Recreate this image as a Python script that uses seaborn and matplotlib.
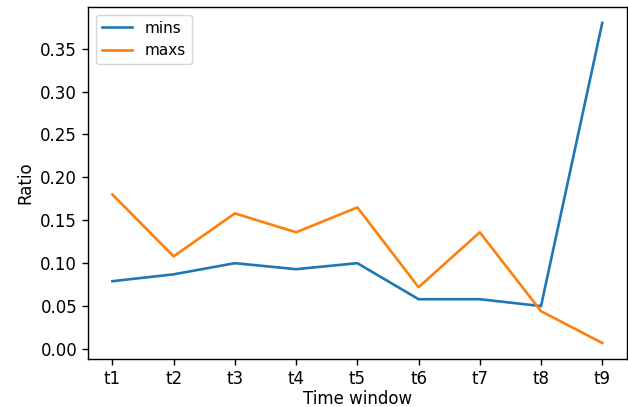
import matplotlib
matplotlib.use("Agg")

import pandas as pd
import matplotlib.pyplot as plt
import seaborn as sns

# ==========================
# Data
# ==========================
windows = ["t1", "t2", "t3", "t4", "t5", "t6", "t7", "t8", "t9"]
mins = [0.079, 0.087, 0.100, 0.093, 0.100, 0.058, 0.058, 0.050, 0.380]
maxs = [0.180, 0.108, 0.158, 0.136, 0.165, 0.072, 0.136, 0.044, 0.007]

df = pd.DataFrame({"window": windows, "mins": mins, "maxs": maxs})
long_df = df.melt(id_vars="window", var_name="series", value_name="ratio")

# the reference looks like a slightly upscaled default matplotlib figure
plt.rcParams.update({
    "font.size": 12,
    "legend.fontsize": 11,
    "axes.linewidth": 1.0,
    "xtick.major.size": 4.2,
    "ytick.major.size": 4.2,
    "xtick.major.width": 1.0,
    "ytick.major.width": 1.0,
})

fig, ax = plt.subplots(figsize=(6.28, 4.07), dpi=100)
fig.subplots_adjust(left=0.14, right=0.998, bottom=0.118, top=0.983)

sns.lineplot(data=long_df, x="window", y="ratio", hue="series",
             palette=["#1f77b4", "#ff7f0e"], linewidth=1.9, ax=ax)

ax.set_xlabel("Time window", labelpad=1.5)
ax.set_ylabel("Ratio")
ax.legend(loc="upper left")

fig.savefig("out.png", dpi=100)
